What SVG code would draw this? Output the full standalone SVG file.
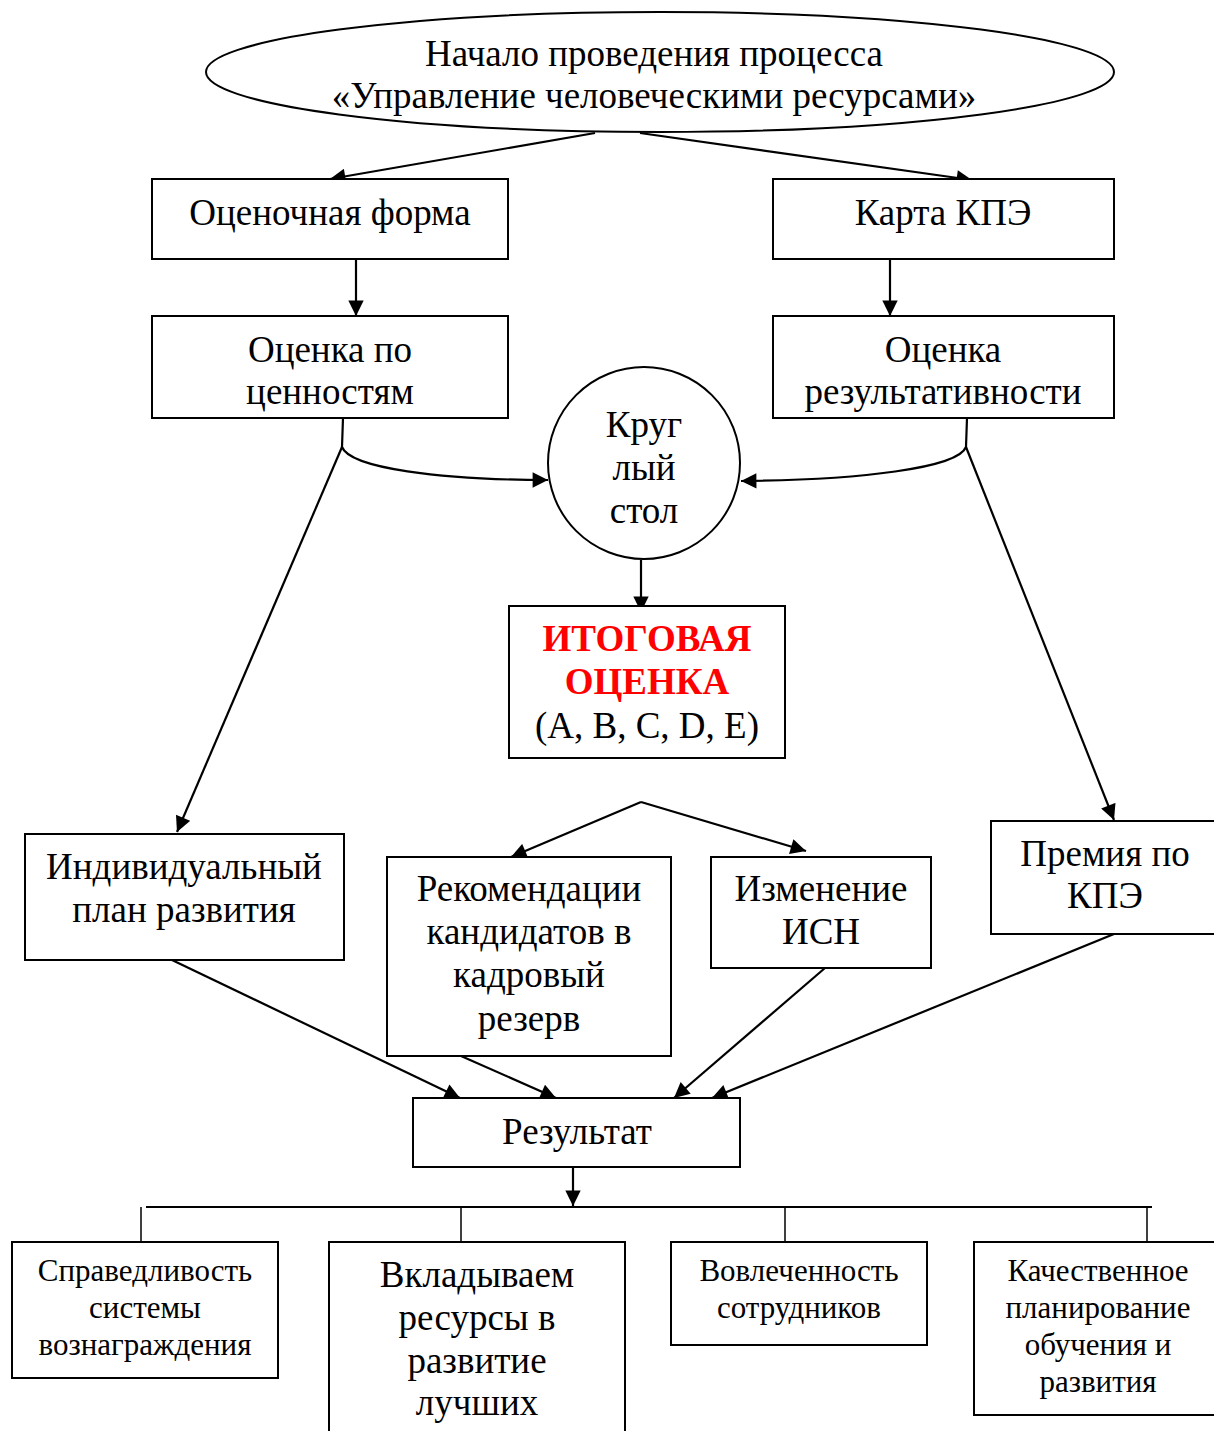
<svg xmlns="http://www.w3.org/2000/svg" width="1214" height="1431" viewBox="0 0 1214 1431">
<style>
.n{fill:#fff;stroke:#000;stroke-width:2}
.c{fill:none;stroke:#000;stroke-width:2.2}
text{font-family:"Liberation Serif","Times New Roman",serif;font-size:37px;fill:#000;text-anchor:middle}
.s{font-size:31px}
.r{fill:#ff0000;font-weight:bold}
</style>
<defs>
<marker id="a" viewBox="0 0 10 10" refX="10" refY="5" markerWidth="7.5" markerHeight="7" markerUnits="strokeWidth" orient="auto">
<path d="M0,0 L10,5 L0,10 z" fill="#000"/>
</marker>
</defs>
<rect width="1214" height="1431" fill="#fff"/>
<g id="connectors">
<path class="c" d="M595,133 L330,179" marker-end="url(#a)"/>
<path class="c" d="M640,133 L972,180" marker-end="url(#a)"/>
<path class="c" d="M356,259 L356,316" marker-end="url(#a)"/>
<path class="c" d="M890,259 L890,316" marker-end="url(#a)"/>
<path class="c" d="M343,418 L342,447 C350,468 440,480 548,480" marker-end="url(#a)"/>
<path class="c" d="M967,418 L966,447 C958,468 860,480 741,481" marker-end="url(#a)"/>
<path class="c" d="M342,447 L177,832" marker-end="url(#a)"/>
<path class="c" d="M966,447 L1114,820" marker-end="url(#a)"/>
<path class="c" d="M641,560 L641,612" marker-end="url(#a)"/>
<path class="c" d="M641,802 L511,857" marker-end="url(#a)"/>
<path class="c" d="M641,802 L806,851" marker-end="url(#a)"/>
<path class="c" d="M172,960 L460,1098" marker-end="url(#a)"/>
<path class="c" d="M461,1056 L556,1098" marker-end="url(#a)"/>
<path class="c" d="M825,968 L674,1098" marker-end="url(#a)"/>
<path class="c" d="M1114,934 L712,1098" marker-end="url(#a)"/>
<path class="c" d="M573,1167 L573,1206" marker-end="url(#a)"/>
<path class="c" d="M146,1207 L1152,1207"/>
<path class="c" d="M141,1207 L141,1242 M461,1207 L461,1242 M785,1207 L785,1242 M1147,1207 L1147,1242" style="stroke-width:1.5"/>
</g>
<g id="start">
<ellipse class="n" cx="660" cy="72" rx="454" ry="60"/>
<text x="654" y="66">Начало проведения процесса</text>
<text x="654" y="108">«Управление человеческими ресурсами»</text>
</g>
<g id="form">
<rect class="n" x="152" y="179" width="356" height="80"/>
<text x="330" y="225">Оценочная форма</text>
</g>
<g id="kpe">
<rect class="n" x="773" y="179" width="341" height="80"/>
<text x="943" y="225">Карта КПЭ</text>
</g>
<g id="values">
<rect class="n" x="152" y="316" width="356" height="102"/>
<text x="330" y="362">Оценка по</text>
<text x="330" y="404">ценностям</text>
</g>
<g id="perf">
<rect class="n" x="773" y="316" width="341" height="102"/>
<text x="943" y="362">Оценка</text>
<text x="943" y="404">результативности</text>
</g>
<g id="roundtable">
<circle class="n" cx="644" cy="463" r="96"/>
<text x="644" y="437">Круг</text>
<text x="644" y="480">лый</text>
<text x="644" y="523">стол</text>
</g>
<g id="final">
<rect class="n" x="509" y="606" width="276" height="152"/>
<text class="r" x="647" y="651">ИТОГОВАЯ</text>
<text class="r" x="647" y="694">ОЦЕНКА</text>
<text x="647" y="738">(A, B, C, D, E)</text>
</g>
<g id="ipr">
<rect class="n" x="25" y="834" width="319" height="126"/>
<text x="184" y="879">Индивидуальный</text>
<text x="184" y="922">план развития</text>
</g>
<g id="reserve">
<rect class="n" x="387" y="857" width="284" height="199"/>
<text x="529" y="901">Рекомендации</text>
<text x="529" y="944">кандидатов в</text>
<text x="529" y="987">кадровый</text>
<text x="529" y="1031">резерв</text>
</g>
<g id="isn">
<rect class="n" x="711" y="857" width="220" height="111"/>
<text x="821" y="901">Изменение</text>
<text x="821" y="944">ИСН</text>
</g>
<g id="bonus">
<rect class="n" x="991" y="821" width="225" height="113"/>
<text x="1105" y="866">Премия по</text>
<text x="1105" y="908">КПЭ</text>
</g>
<g id="result">
<rect class="n" x="413" y="1098" width="327" height="69"/>
<text x="577" y="1144">Результат</text>
</g>
<g id="fairness">
<rect class="n" x="12" y="1242" width="266" height="136"/>
<text class="s" x="145" y="1281">Справедливость</text>
<text class="s" x="145" y="1318">системы</text>
<text class="s" x="145" y="1355">вознаграждения</text>
</g>
<g id="invest">
<rect class="n" x="329" y="1242" width="296" height="195"/>
<text x="477" y="1287">Вкладываем</text>
<text x="477" y="1330">ресурсы в</text>
<text x="477" y="1373">развитие</text>
<text x="477" y="1415">лучших</text>
</g>
<g id="engagement">
<rect class="n" x="671" y="1242" width="256" height="103"/>
<text class="s" x="799" y="1281">Вовлеченность</text>
<text class="s" x="799" y="1318">сотрудников</text>
</g>
<g id="training">
<rect class="n" x="974" y="1242" width="242" height="173"/>
<text class="s" x="1098" y="1281">Качественное</text>
<text class="s" x="1098" y="1318">планирование</text>
<text class="s" x="1098" y="1355">обучения и</text>
<text class="s" x="1098" y="1392">развития</text>
</g>
</svg>
